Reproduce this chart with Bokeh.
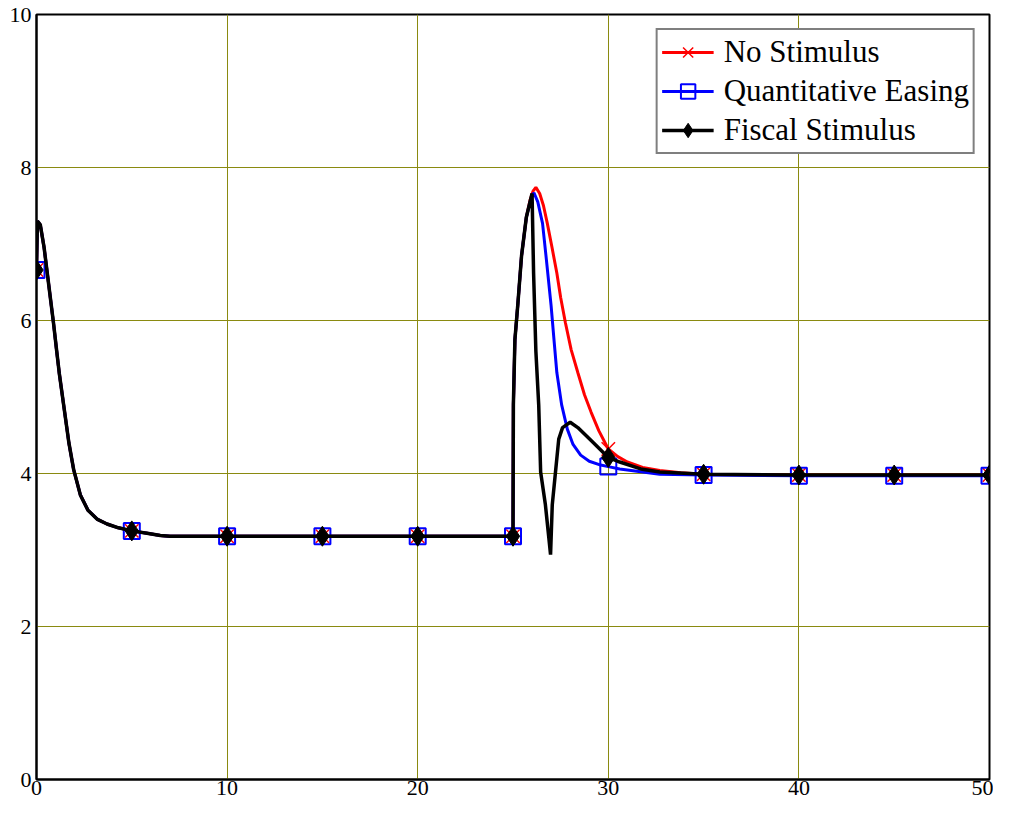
from bokeh.plotting import figure
from bokeh.models import Range1d, FixedTicker, Legend, LegendItem
from bokeh.embed import file_html
from bokeh.resources import INLINE

# ---- data ----
marker_x = [0, 5, 10, 15, 20, 25, 30, 35, 40, 45, 50]

common_x = [0, 0.05, 0.2, 0.4, 0.6, 0.75, 0.9, 1.05, 1.2, 1.45, 1.7, 1.95, 2.3, 2.7, 3.2, 3.7,
            4.3, 5, 5.8, 6.5, 7, 10, 15, 20, 25]
common_y = [6.66, 7.3, 7.25, 6.95, 6.55, 6.25, 5.95, 5.62, 5.3, 4.85, 4.4, 4.05, 3.72, 3.52,
            3.40, 3.34, 3.29, 3.25, 3.22, 3.19, 3.18, 3.18, 3.18, 3.18, 3.18]

red_x = common_x + [25.02, 25.1, 25.25, 25.45, 25.7, 25.9, 26.05, 26.2, 26.4, 26.6, 26.8,
                    27.05, 27.3, 27.5, 27.75, 28.05, 28.4, 28.75, 29.1, 29.5, 30, 30.5,
                    31, 31.8, 32.7, 33.8, 35, 40, 45, 50]
red_y = common_y + [4.9, 5.75, 6.2, 6.85, 7.35, 7.58, 7.69, 7.74, 7.66, 7.5, 7.27,
                    6.95, 6.62, 6.3, 5.97, 5.62, 5.32, 5.03, 4.8, 4.56, 4.32, 4.22,
                    4.15, 4.08, 4.04, 4.01, 3.99, 3.98, 3.98, 3.98]

blue_x = common_x + [25.02, 25.1, 25.25, 25.45, 25.7, 25.95, 26.1, 26.3, 26.55, 26.75,
                     27.0, 27.15, 27.3, 27.55, 27.85, 28.15, 28.55, 29.0, 29.6, 30, 30.6,
                     31.2, 32.7, 35, 40, 45, 50]
blue_y = common_y + [4.9, 5.75, 6.2, 6.85, 7.35, 7.6, 7.67, 7.55, 7.27, 6.8,
                     6.19, 5.75, 5.32, 4.9, 4.58, 4.38, 4.24, 4.16, 4.11, 4.09, 4.06,
                     4.04, 3.99, 3.98, 3.97, 3.97, 3.97]

black_x = common_x + [25.02, 25.1, 25.25, 25.45, 25.7, 26.0, 26.08, 26.2, 26.35, 26.45, 26.7,
                      26.88, 26.97, 27.06, 27.23, 27.4, 27.6, 28.0, 28.4, 29.1, 30, 30.6,
                      31.7, 32.7, 35, 40, 45, 50]
black_y = common_y + [4.9, 5.75, 6.2, 6.85, 7.35, 7.66, 6.62, 5.6, 4.89, 4.02, 3.59,
                      3.16, 2.94, 3.59, 4.02, 4.45, 4.6, 4.67, 4.6, 4.43, 4.21, 4.15,
                      4.06, 4.02, 3.99, 3.98, 3.98, 3.98]

series_names = ["No Stimulus", "Quantitative Easing", "Fiscal Stimulus"]
x_ticks = [0, 10, 20, 30, 40, 50]
y_ticks = [0, 2, 4, 6, 8, 10]

FONT = "Liberation Serif"

p = figure(width=993, height=800, output_backend="svg", toolbar_location=None,
           x_range=Range1d(0, 50), y_range=Range1d(0, 10),
           min_border_left=36, min_border_right=4, min_border_top=14, min_border_bottom=21)
p.background_fill_color = "white"
p.border_fill_color = "white"
p.outline_line_color = "black"
p.outline_line_width = 2

for ax in (p.xaxis, p.yaxis):
    ax.major_tick_line_color = None
    ax.minor_tick_line_color = None
    ax.major_tick_out = 0
    ax.major_tick_in = 0
    ax.axis_line_color = "black"
    ax.axis_line_width = 2
    ax.major_label_text_font = FONT
    ax.major_label_text_font_size = "22px"
    ax.major_label_text_color = "black"
p.xaxis.ticker = FixedTicker(ticks=x_ticks)
p.yaxis.ticker = FixedTicker(ticks=y_ticks)
p.xaxis.major_label_standoff = 1
p.yaxis.major_label_standoff = 5

p.xgrid.ticker = FixedTicker(ticks=x_ticks)
p.ygrid.ticker = FixedTicker(ticks=y_ticks)
p.grid.grid_line_color = "#8a8a10"
p.grid.grid_line_width = 1


def pick(xs, ys):
    mx, my = [], []
    for a, b in zip(xs, ys):
        if a in marker_x:
            mx.append(a)
            my.append(b)
    return mx, my


items = []
rl = p.line(red_x, red_y, line_color="red", line_width=3)
mx, my = pick(red_x, red_y)
rm = p.scatter(mx, my, marker="x", size=19, line_color="red", line_width=1.5)
items.append(LegendItem(label=series_names[0], renderers=[rl, rm]))

bl = p.line(blue_x, blue_y, line_color="blue", line_width=3)
mx, my = pick(blue_x, blue_y)
bm = p.scatter(mx, my, marker="square", size=16, line_color="blue", line_width=2,
               fill_color=None)
items.append(LegendItem(label=series_names[1], renderers=[bl, bm]))

kl = p.line(black_x, black_y, line_color="black", line_width=3.5)
mx, my = pick(black_x, black_y)
km = p.scatter(mx, my, marker="diamond", size=20, line_color="black", fill_color="black")
items.append(LegendItem(label=series_names[2], renderers=[kl, km]))

legend = Legend(items=items, location="top_right", margin=14,
                label_text_font=FONT, label_text_font_size="31px",
                label_text_color="black",
                glyph_width=52, glyph_height=36, label_height=36,
                spacing=3, padding=4, label_standoff=10,
                border_line_color="black", border_line_width=2,
                background_fill_color="white", background_fill_alpha=1)
p.add_layout(legend, "center")

open("out.html", "w").write(file_html(p, INLINE))
